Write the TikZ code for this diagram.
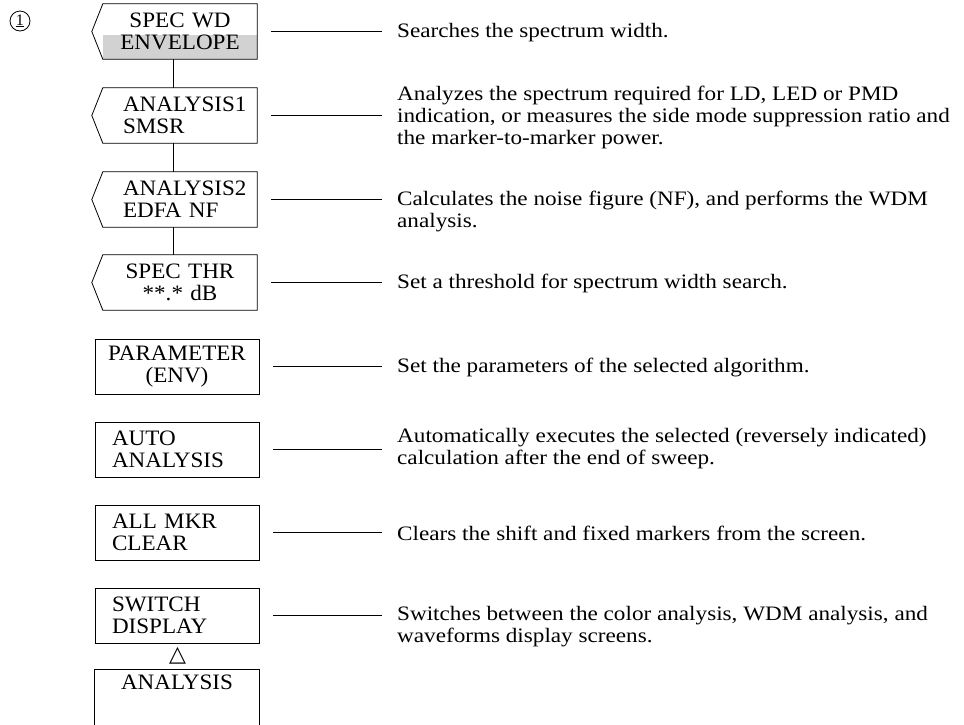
\documentclass[tikz,border=0pt]{standalone}
\usepackage{fontspec}
\setmainfont{Liberation Serif}
\newfontfamily\descfont[FakeStretch=1.13]{Liberation Serif}
\newfontfamily\keyfam[FakeStretch=1.05]{Liberation Serif}
\newfontfamily\symfont{DejaVu Sans}
\usetikzlibrary{calc,backgrounds}
\begin{document}
\begin{tikzpicture}[x=1pt,y=-1pt,
  keyfont/.style={font=\keyfam\fontsize{22}{22}\selectfont},
  notchbox/.style={keyfont, draw=none, minimum height=55pt, minimum width=154pt,
    text width=154pt, inner xsep=0pt, inner ysep=0pt},
  rectbox/.style={keyfont, draw, line width=0.8pt, minimum height=55pt, minimum width=164pt,
    text width=164pt, inner xsep=0pt, inner ysep=0pt},
  outline/.style={line width=0.8pt, line join=miter},
  desc/.style={anchor=west, align=left, inner xsep=0pt, inner ysep=0pt,
    font=\descfont\fontsize{20.5}{22}\selectfont},
  conn/.style={line width=0.8pt}]
\useasboundingbox (0,0) rectangle (964,724);

\node[circle, draw, line width=0.8pt, minimum size=20pt, inner sep=0pt,
  font=\fontsize{16}{16}\selectfont] (num) at (20,21) {\underline{1}};

% notched soft keys
\node[notchbox, align=center] (b1) at (180,31.5) {SPEC WD\\ENVELOPE};
\node[notchbox, align=left] (b2) at (180,115.5) {\hspace*{20pt}ANALYSIS1\\\hspace*{20pt}SMSR};
\node[notchbox, align=left] (b3) at (180,199.5) {\hspace*{20pt}ANALYSIS2\\\hspace*{20pt}EDFA NF};
\node[notchbox, align=center] (b4) at (180,282.5) {SPEC THR\\{}**.* dB};

\begin{scope}[on background layer]
  \fill[gray!35] (b1.south west) rectangle ($(b1.east)+(-0.5,3.5)$);
\end{scope}

\foreach \n in {b1,b2,b3,b4}
  \draw[outline] (\n.north west) -- (\n.north east) -- (\n.south east) -- (\n.south west)
    -- ([xshift=-11pt]\n.west) -- cycle;

% plain soft keys
\node[rectbox, align=center] (b5) at (177,366.5) {PARAMETER\\(ENV)};
\node[rectbox, align=left] (b6) at (177,449.5) {\hspace*{17pt}AUTO\\\hspace*{17pt}ANALYSIS};
\node[rectbox, align=left] (b7) at (177,532.5) {\hspace*{17pt}ALL MKR\\\hspace*{17pt}CLEAR};
\node[rectbox, align=left] (b8) at (177,615.5) {\hspace*{17pt}SWITCH\\\hspace*{17pt}DISPLAY};

\node[inner sep=0pt, font=\symfont\fontsize{22}{22}\selectfont] (tri) at (177.5,656) {△};

\node[keyfont, anchor=north, minimum width=164pt, text depth=45pt, inner ysep=6pt] (b9) at (177,669) {ANALYSIS};
\draw[outline] (b9.south west) -- (b9.north west) -- (b9.north east) -- (b9.south east);

% vertical links between notched keys
\draw[conn] ([xshift=-7pt]b1.south) -- ([xshift=-7pt]b2.north);
\draw[conn] ([xshift=-7pt]b2.south) -- ([xshift=-7pt]b3.north);
\draw[conn] ([xshift=-7pt]b3.south) -- ([xshift=-7pt]b4.north);

% descriptions
\node[desc] (d1) at (397,33) {Searches the spectrum width.};
\node[desc] (d2) at (397,117) {Analyzes the spectrum required for LD, LED or PMD\\indication, or measures the side mode suppression ratio and\\the marker-to-marker power.};
\node[desc] (d3) at (397,211) {Calculates the noise figure (NF), and performs the WDM\\analysis.};
\node[desc] (d4) at (397,283) {Set a threshold for spectrum width search.};
\node[desc] (d5) at (397,367) {Set the parameters of the selected algorithm.};
\node[desc] (d6) at (397,449) {Automatically executes the selected (reversely indicated)\\calculation after the end of sweep.};
\node[desc] (d7) at (397,533) {Clears the shift and fixed markers from the screen.};
\node[desc] (d8) at (397,627) {Switches between the color analysis, WDM analysis, and\\waveforms display screens.};

% leader lines
\foreach \i in {1,...,8}
  \draw[conn] ($(b\i.east)+(14,0)$) -- ($(d\i.west |- b\i.east)+(-15,0)$);
\end{tikzpicture}
\end{document}
